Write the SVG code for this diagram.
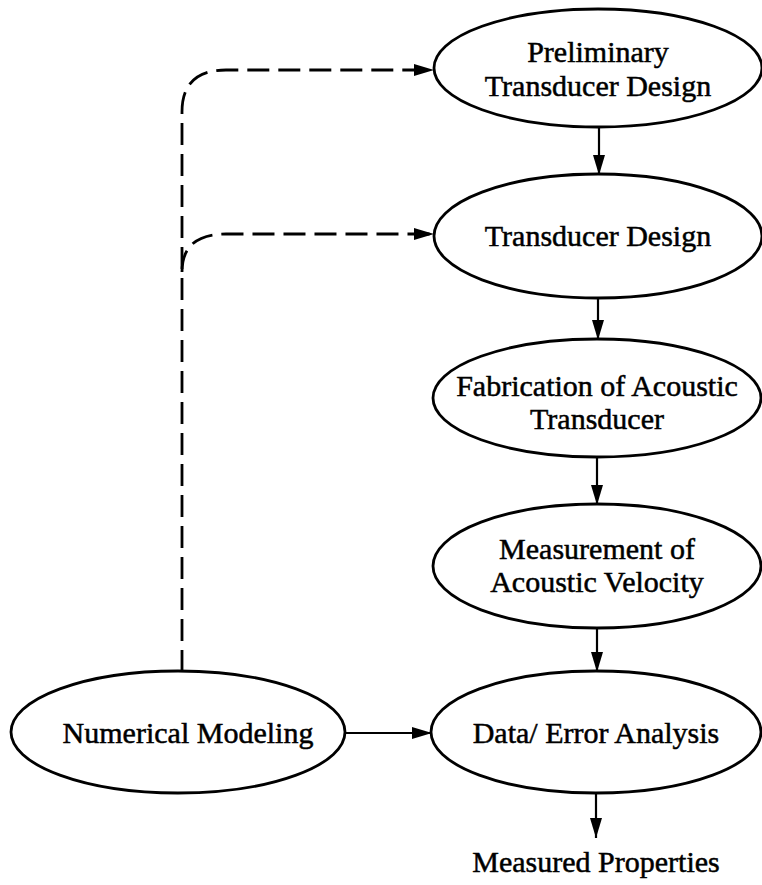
<svg xmlns="http://www.w3.org/2000/svg" width="762" height="885" viewBox="0 0 762 885">
  <style>
    .node ellipse { fill: #ffffff; stroke: #000000; stroke-width: 2.8; }
    .node text, .label { font-family: "Liberation Serif", "DejaVu Serif", serif; font-size: 30px; fill: #000000; stroke: #000000; stroke-width: 0.5; text-anchor: middle; }
    .edge { fill: none; stroke: #000000; stroke-width: 2.2; }
    .dashed { stroke-dasharray: 22 9; stroke-width: 2.8; }
  </style>
  <defs>
    <marker id="arrow" markerUnits="userSpaceOnUse" markerWidth="22" markerHeight="14" refX="20" refY="7" orient="auto">
      <path d="M0,1 L20,7 L0,13 Z" fill="#000000"/>
    </marker>
  </defs>
  <rect width="762" height="885" fill="#ffffff"/>

  <g id="connectors">
    <path class="edge dashed" d="M182,672 V112 Q182,70 226,70 H434" marker-end="url(#arrow)"/>
    <path class="edge dashed" d="M182,272 Q182,234 226,234 H434" marker-end="url(#arrow)"/>
    <line class="edge" x1="599" y1="127" x2="599" y2="175" marker-end="url(#arrow)"/>
    <line class="edge" x1="598" y1="298" x2="598" y2="340" marker-end="url(#arrow)"/>
    <line class="edge" x1="597" y1="457" x2="597" y2="505" marker-end="url(#arrow)"/>
    <line class="edge" x1="597" y1="628" x2="597" y2="672" marker-end="url(#arrow)"/>
    <line class="edge" x1="596" y1="793" x2="596" y2="838" marker-end="url(#arrow)"/>
    <line class="edge" x1="345" y1="733" x2="432" y2="733" marker-end="url(#arrow)"/>
  </g>

  <g id="preliminary-design" class="node">
    <ellipse cx="598" cy="68" rx="164" ry="59"/>
    <text x="598" y="62">Preliminary</text>
    <text x="598" y="96">Transducer Design</text>
  </g>

  <g id="transducer-design" class="node">
    <ellipse cx="598" cy="236" rx="164" ry="62"/>
    <text x="598" y="246">Transducer Design</text>
  </g>

  <g id="fabrication" class="node">
    <ellipse cx="597" cy="398" rx="164" ry="59"/>
    <text x="597" y="396">Fabrication of Acoustic</text>
    <text x="597" y="429">Transducer</text>
  </g>

  <g id="measurement" class="node">
    <ellipse cx="597" cy="566" rx="164" ry="62"/>
    <text x="597" y="559">Measurement of</text>
    <text x="597" y="592">Acoustic Velocity</text>
  </g>

  <g id="data-error-analysis" class="node">
    <ellipse cx="596" cy="732" rx="165" ry="61"/>
    <text x="596" y="743">Data/ Error Analysis</text>
  </g>

  <g id="numerical-modeling" class="node">
    <ellipse cx="178" cy="732" rx="167" ry="61"/>
    <text x="188" y="743">Numerical Modeling</text>
  </g>

  <g id="measured-properties">
    <text class="label" x="596" y="872">Measured Properties</text>
  </g>
</svg>
